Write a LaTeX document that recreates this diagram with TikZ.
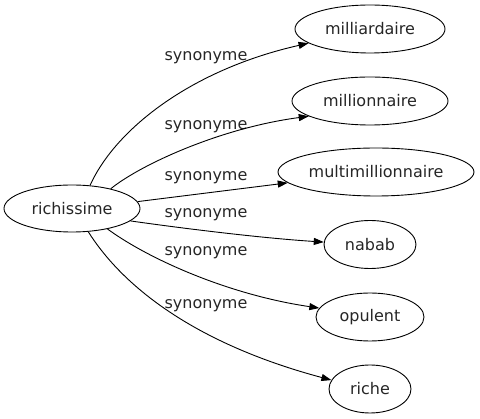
\documentclass[tikz,border=0pt]{standalone}
\usepackage{fontspec}
\setmainfont{DejaVu Sans}
\usetikzlibrary{shapes.geometric,arrows.meta}
\begin{document}
\begin{tikzpicture}[x=1pt,y=-1pt,
  word/.style={draw,ellipse,inner sep=0pt,line width=0.9pt,minimum height=48pt,font=\fontsize{16}{19}\selectfont,text=black!85},
  syn/.style={font=\fontsize{16}{19}\selectfont,inner sep=0pt,text=black!85},
  rel/.style={line width=0.9pt,-{Triangle[length=10pt,width=7pt]}}]
\useasboundingbox (0,0) rectangle (480,419);
\node[word,minimum width=136pt,minimum height=47pt] (r) at (72,208.5) {richissime};
\node[word,minimum width=150pt] (m1) at (370,29) {milliardaire};
\node[word,minimum width=156pt] (m2) at (370,101) {millionnaire};
\node[word,minimum width=196pt] (m3) at (376,172) {multimillionnaire};
\node[word,minimum width=92pt] (m4) at (370,244.5) {nabab};
\node[word,minimum width=108pt] (m5) at (370,317) {opulent};
\node[word,minimum width=82pt] (m6) at (370,389) {riche};
\node[syn] (l1) at (206,58) {synonyme};
\node[syn] (l2) at (206,127) {synonyme};
\node[syn] (l3) at (206,178) {synonyme};
\node[syn] (l4) at (206,215) {synonyme};
\node[syn] (l5) at (206,253) {synonyme};
\node[syn] (l6) at (206,306) {synonyme};
\draw[rel] (r.52) .. controls (115,130) and (190,70) .. (m1.193);
\draw[rel] (r.27) .. controls (140,165) and (220,128) .. (m2.194);
\draw[rel] (r.6) -- (m3.187);
\draw[rel] (r.348) .. controls (180,228) and (260,238) .. (m4.177);
\draw[rel] (r.330) .. controls (150,260) and (230,295) .. (m5.170);
\draw[rel] (r.305) .. controls (125,290) and (200,345) .. (m6.167);
\end{tikzpicture}
\end{document}
